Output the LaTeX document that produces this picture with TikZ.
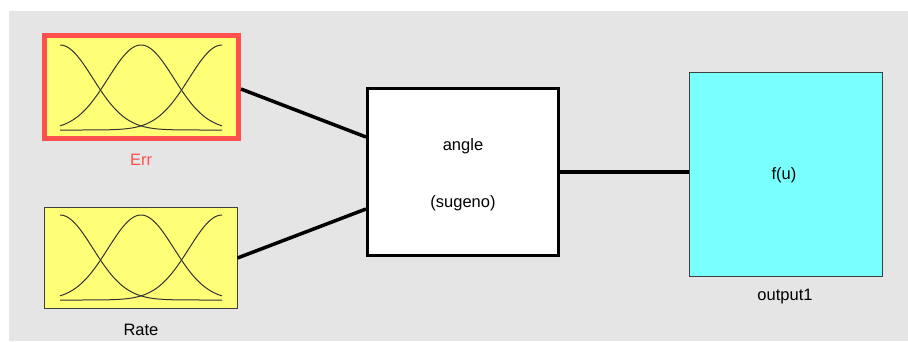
\documentclass[tikz,border=0pt]{standalone}
\usepackage{fontspec}
\setmainfont{Liberation Sans}
\usetikzlibrary{calc}
\definecolor{panel}{HTML}{E5E5E5}
\definecolor{mfyellow}{HTML}{FFFF77}
\definecolor{selred}{HTML}{FF5050}
\definecolor{outcyan}{HTML}{7AFFFF}
\tikzset{
  inputbox/.style={draw=black!75, line width=1pt, fill=mfyellow, minimum width=193pt, minimum height=101pt, inner sep=0pt, outer sep=0pt},
  selbox/.style={draw=selred, line width=5pt, fill=mfyellow, minimum width=194pt, minimum height=103pt, inner sep=0pt, outer sep=2.5pt},
  rulebox/.style={draw=black, line width=3pt, fill=white, minimum width=191pt, minimum height=167pt, inner sep=0pt, outer sep=1.5pt},
  outbox/.style={draw=black!75, line width=1pt, fill=outcyan, minimum width=193pt, minimum height=204pt, inner sep=0pt, outer sep=0pt},
  lbl/.style={font=\fontsize{16.5}{19}\selectfont, inner sep=0pt},
  wire/.style={line width=3.5pt, black},
  mf/.style={black!80, line width=1pt, smooth}
}
% three Gaussian membership curves in a box with baseline #1
\newcommand{\gaussset}[1]{%
  \foreach \c in {60,141,222}{
    \draw[mf] plot[domain=60:222, samples=90] (\x, {#1 - 85*exp(-(((\x-\c)/10)^2)/21.72)});
  }%
}
\begin{document}
\begin{tikzpicture}[x=1pt, y=-1pt]
  \useasboundingbox (0,0) rectangle (908,341);
  \fill[white] (0,0) rectangle (908,341);
  \fill[panel] (9,11) rectangle (908,341);

  % input variables
  \node[selbox] (err) at (141.5,87) {};
  \gaussset{130}
  \node[lbl, text=selred] (errlbl) at (141,160) {Err};

  \node[inputbox] (rate) at (141,258) {};
  \gaussset{300}
  \node[lbl] (ratelbl) at (141,330) {Rate};

  % rule block
  \node[rulebox] (angle) at (463,172) {};
  \node[lbl] (angletxt) at (463,146) {angle};
  \node[lbl] (sugtxt) at (463,203) {(sugeno)};

  % output variable
  \node[outbox] (out) at (785.5,174) {};
  \node[lbl] (fu) at (784,175) {f(u)};
  \node[lbl] (outlbl) at (785,297) {output1};

  % connectors
  \coordinate (inA) at ($(angle.west)+(0,-35)$);
  \coordinate (inB) at ($(angle.west)+(0,37)$);
  \draw[wire] ($(err.east)+(0,2)$) -- (inA);
  \draw[wire] (rate.east) -- (inB);
  \draw[wire] (angle.east) -- (angle.east -| out.west);
\end{tikzpicture}
\end{document}
